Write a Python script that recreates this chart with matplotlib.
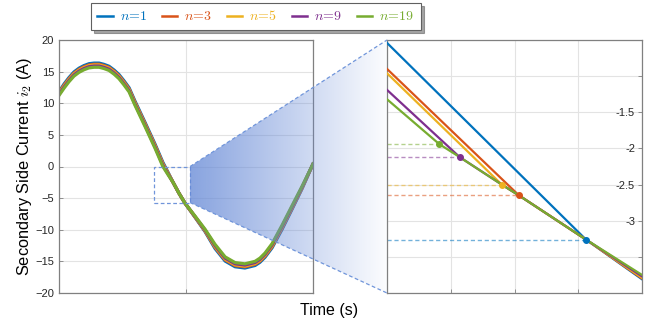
import numpy as np
import matplotlib
matplotlib.use('Agg')
import matplotlib.pyplot as plt
from matplotlib.patches import Polygon, Rectangle
from matplotlib.ticker import FixedLocator, FixedFormatter

plt.rcParams['font.family'] = ['Liberation Sans', 'DejaVu Sans']
plt.rcParams['mathtext.fontset'] = 'cm'

# series settings
labels = [r'$n\!=\!1$', r'$n\!=\!3$', r'$n\!=\!5$', r'$n\!=\!9$', r'$n\!=\!19$']
colors = ['#0072BD', '#D95319', '#EDB120', '#7E2F8E', '#77AC30']

# full waveform (left panel), normalised time
t = [0, .020, .039, .059, .079, .098, .118, .138, .158, .177, .197, .217, .236,
     .256, .276, .299, .339, .378, .409, .429, .449, .472, .496, .535, .575,
     .614, .654, .693, .732, .772, .791, .811, .839, .878, .917, .957, 1.0]
i2_n1 = [11.8, 13.05, 14.05, 14.95, 15.55, 15.95, 16.25, 16.35, 16.35, 16.15, 15.85,
         15.25, 14.55, 13.55, 12.45, 10.35, 6.95, 3.55, 0.65, -0.9, -2.5, -4.2, -5.8,
         -8.0, -10.3, -12.95, -14.95, -15.85, -16.05, -15.65, -15.15, -14.35, -12.85,
         -9.95, -6.8, -3.5, 0.4]
i2_n3 = [11.64, 12.86, 13.86, 14.76, 15.36, 15.76, 16.06, 16.16, 16.16, 15.96, 15.66,
         15.06, 14.36, 13.36, 12.26, 10.16, 6.76, 3.36, 0.46, -1.01, -2.5, -4.2, -5.8,
         -7.95, -10.19, -12.76, -14.76, -15.66, -15.86, -15.46, -14.96, -14.16, -12.66,
         -9.76, -6.64, -3.39, 0.4]
i2_n5 = [11.53, 12.74, 13.74, 14.64, 15.24, 15.64, 15.94, 16.04, 16.04, 15.84, 15.54,
         14.94, 14.24, 13.24, 12.14, 10.04, 6.64, 3.24, 0.34, -1.08, -2.5, -4.2, -5.8,
         -7.91, -10.12, -12.64, -14.64, -15.54, -15.74, -15.34, -14.84, -14.04, -12.54,
         -9.64, -6.53, -3.32, 0.4]
i2_n9 = [11.4, 12.58, 13.58, 14.48, 15.08, 15.48, 15.78, 15.88, 15.88, 15.68, 15.38,
         14.78, 14.08, 13.08, 11.98, 9.88, 6.48, 3.08, 0.18, -1.17, -2.5, -4.2, -5.8,
         -7.87, -10.03, -12.48, -14.48, -15.38, -15.58, -15.18, -14.68, -13.88, -12.38,
         -9.48, -6.4, -3.23, 0.4]
i2_n19 = [11.23, 12.39, 13.39, 14.29, 14.89, 15.29, 15.59, 15.69, 15.69, 15.49, 15.19,
          14.59, 13.89, 12.89, 11.79, 9.69, 6.29, 2.89, -0.01, -1.28, -2.5, -4.2, -5.8,
          -7.81, -9.92, -12.29, -14.29, -15.19, -15.39, -14.99, -14.49, -13.69, -12.19,
          -9.29, -6.23, -3.12, 0.4]
waves = [i2_n1, i2_n3, i2_n5, i2_n9, i2_n19]

# zoomed detail (right panel)
start_y = [-0.54, -0.90, -0.96, -1.19, -1.32]
knee_x = [3.12, 2.07, 1.80, 1.14, 0.82]
knee_y = [-3.26, -2.65, -2.50, -2.12, -1.94]
end_y = [-3.81, -3.80, -3.79, -3.77, -3.75]
common_x = [0.82, 1.14, 1.80, 2.07, 3.12, 4.0]
common_y = [-1.94, -2.12, -2.50, -2.65, -3.26, -3.79]

W, H = 668, 328
fig = plt.figure(figsize=(W / 100, H / 100), dpi=100)
ax1 = fig.add_axes([59 / W, 1 - 293 / H, 254 / W, 253 / H])
ax2 = fig.add_axes([387 / W, 1 - 293 / H, 255 / W, 253 / H])

spine_c = '#808080'
grid_c = '#E3E3E3'

# left panel
for y, c in zip(waves, colors):
    ax1.plot(t, y, color=c, lw=2.3, solid_joinstyle='round')
ax1.set_xlim(0, 1)
ax1.set_ylim(-20, 20)
ax1.set_xticks([0, 0.5, 1])
ax1.set_xticklabels([])
ax1.set_yticks(np.arange(-20, 21, 5))
ax1.set_ylabel('Secondary Side Current $i_2$ (A)', fontsize=11.8, labelpad=1)

# right panel
for k in range(5):
    xs = [0, knee_x[k]] + [x for x in common_x if x > knee_x[k] + 1e-6]
    ys = [start_y[k], knee_y[k]] + [y for x, y in zip(common_x, common_y) if x > knee_x[k] + 1e-6]
    ys[-1] = end_y[k]
    ax2.plot(xs, ys, color=colors[k], lw=1.6, zorder=3 + k * 0.1)
for k in range(5):
    ax2.plot([0, knee_x[k]], [knee_y[k], knee_y[k]], color=colors[k], lw=1.0,
             ls=(0, (3, 2)), alpha=0.55, zorder=2)
    ax2.plot(knee_x[k], knee_y[k], 'o', color=colors[k], ms=4, zorder=5)
ax2.set_xlim(0, 4)
ax2.set_ylim(-4, -0.5)
ax2.set_xticks([0, 1, 2, 3, 4])
ax2.set_xticklabels([])
yt = [-4, -3.5, -3, -2.5, -2, -1.5, -1, -0.5]
ax2.yaxis.set_major_locator(FixedLocator(yt))
ax2.yaxis.set_major_formatter(FixedFormatter(['', '', '-3', '-2.5', '-2', '-1.5', '', '']))
ax2.yaxis.tick_right()
ax2.tick_params(axis='y', pad=-5)
for lbl in ax2.get_yticklabels():
    lbl.set_horizontalalignment('right')

for ax in (ax1, ax2):
    ax.grid(True, color=grid_c, lw=0.8)
    ax.set_axisbelow(True)
    ax.tick_params(direction='in', length=3, width=0.6, color=spine_c,
                   labelsize=8, labelcolor='#262626')
    for s in ax.spines.values():
        s.set_color(spine_c)
        s.set_linewidth(0.9)

fig.text(329 / W, 1 - 311 / H, 'Time (s)', ha='center', va='center', fontsize=11.5)

# zoom box and gradient connector
zc = '#7095DA'
bx0, bx1, by0, by1 = 0.374, 0.516, -5.7, 0.0
ax1.add_patch(Rectangle((bx0, by0), bx1 - bx0, by1 - by0, fill=False, ec=zc,
                        lw=0.9, ls=(0, (3, 2)), zorder=4))

fig.canvas.draw()
p_top = ax1.transData.transform((bx1, by1))
p_bot = ax1.transData.transform((bx1, by0))
q_top = ax2.transAxes.transform((0, 1))
q_bot = ax2.transAxes.transform((0, 0))

ov = fig.add_axes([0, 0, 1, 1], zorder=5)
ov.set_xlim(0, W)
ov.set_ylim(0, H)
ov.axis('off')

poly = Polygon([p_top, q_top, q_bot, p_bot], closed=True, fc='none', ec='none')
ov.add_patch(poly)
n = 256
grad = np.zeros((1, n, 4))
grad[..., 0] = 0.40
grad[..., 1] = 0.54
grad[..., 2] = 0.84
grad[0, :, 3] = np.linspace(0.78, 0.02, n)
im = ov.imshow(grad, extent=[p_top[0], q_top[0], q_bot[1], q_top[1]],
               aspect='auto', interpolation='bilinear', origin='lower')
im.set_clip_path(poly)
for a, b in ((p_top, q_top), (p_bot, q_bot)):
    ov.plot([a[0], b[0]], [a[1], b[1]], color=zc, lw=0.9, ls=(0, (3, 2)))

# legend
handles = [plt.Line2D([], [], color=c, lw=1.8) for c in colors]
leg = fig.legend(handles, labels, loc='center', bbox_to_anchor=(256 / W, 1 - 16.5 / H),
                 ncol=5, fontsize=10, frameon=True, fancybox=False, shadow=True,
                 edgecolor='#606060', handlelength=1.1, handletextpad=0.5,
                 columnspacing=1.05, borderpad=0.45)
leg.get_frame().set_linewidth(0.8)
for txt, c in zip(leg.get_texts(), colors):
    txt.set_color(c)

fig.savefig('out.png', dpi=100)
